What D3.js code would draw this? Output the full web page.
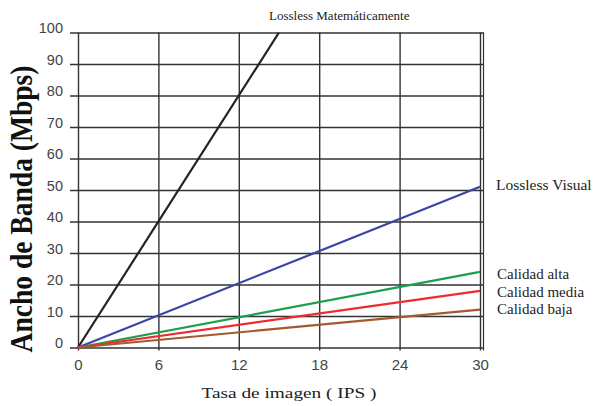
<!DOCTYPE html>
<html>
<head>
<meta charset="utf-8">
<script src="https://cdn.jsdelivr.net/npm/d3@7"></script>
<style>
  body { margin: 0; background: #fff; }
  svg { display: block; }
</style>
</head>
<body>
<svg id="chart" width="595" height="406"></svg>
<script>
// frame rate (IPS) ticks and bandwidth (Mbps) ticks
const xTicks = [0, 6, 12, 18, 24, 30]
const yTicks = [0, 10, 20, 30, 40, 50, 60, 70, 80, 90, 100]

// each series: [fps, Mbps] end points
const seriesNames = ['Lossless Matemáticamente', 'Lossless Visual', 'Calidad alta', 'Calidad media', 'Calidad baja']
const seriesValues = [
  [[0, 0], [15, 100]],
  [[0, 0], [30, 51]],
  [[0, 0], [30, 24]],
  [[0, 0], [30, 18]],
  [[0, 0], [30, 12]],
]
const seriesColors = ['#222222', '#3d44a3', '#1d9e4d', '#ee2b2e', '#a35a2e']

const svg = d3.select('#chart')

const x = d3.scaleLinear().domain([0, 30]).range([78, 480])
const y = d3.scaleLinear().domain([0, 100]).range([347.5, 32.5])

const gridColor = '#333'

// horizontal grid + y labels
const yAxis = d3.axisLeft(y)
  .tickValues(yTicks)
  .tickSizeInner(-(484 - 70))
  .tickSizeOuter(0)
  .tickPadding(7)

const gy = svg.append('g')
  .attr('transform', 'translate(70,0)')
  .call(yAxis)
gy.select('.domain').remove()
gy.selectAll('line').attr('stroke', gridColor).attr('stroke-width', 1.4)
gy.selectAll('text')
  .attr('dy', 0)
  .attr('fill', '#444')
  .style('font-family', '"Liberation Sans", Arial, sans-serif')
  .style('font-size', '14.5px')

// vertical grid + x labels
const xAxis = d3.axisBottom(x)
  .tickValues(xTicks)
  .tickSizeInner(-(350.5 - 32.5))
  .tickSizeOuter(0)
  .tickPadding(9)

const gx = svg.append('g')
  .attr('transform', 'translate(0,350.5)')
  .call(xAxis)
gx.select('.domain').remove()
gx.selectAll('line').attr('stroke', gridColor).attr('stroke-width', 1.4)
gx.selectAll('text')
  .attr('fill', '#444')
  .style('font-family', '"Liberation Sans", Arial, sans-serif')
  .style('font-size', '15px')

// doubled right border
svg.append('line')
  .attr('x1', 483.5).attr('x2', 483.5)
  .attr('y1', y(100)).attr('y2', 350.5)
  .attr('stroke', gridColor)
  .attr('stroke-width', 1.2)

// clip so the steep line stops at the top
svg.append('clipPath').attr('id', 'plot-clip')
  .append('rect')
  .attr('x', x(0) - 2).attr('y', y(100))
  .attr('width', x(30) - x(0) + 4).attr('height', y(0) - y(100) + 3)

const line = d3.line().x(d => x(d[0])).y(d => y(d[1]))

svg.append('g')
  .attr('clip-path', 'url(#plot-clip)')
  .selectAll('path')
  .data(seriesValues)
  .join('path')
  .attr('d', line)
  .attr('fill', 'none')
  .attr('stroke', (d, i) => seriesColors[i])
  .attr('stroke-width', 2.2)

// series labels
const serif = '"Liberation Serif", "Times New Roman", serif'
const labelPos = [
  { x: 269, y: 20, size: 13 },
  { x: 496, y: 190, size: 15.5 },
  { x: 497, y: 279, size: 15 },
  { x: 497, y: 297, size: 15 },
  { x: 497, y: 314, size: 15 },
]
svg.append('g')
  .selectAll('text')
  .data(seriesNames)
  .join('text')
  .attr('x', (d, i) => labelPos[i].x)
  .attr('y', (d, i) => labelPos[i].y)
  .attr('fill', '#222')
  .style('font-family', serif)
  .style('font-size', (d, i) => labelPos[i].size + 'px')
  .text(d => d)

// axis titles
svg.append('text')
  .attr('x', 201.5)
  .attr('y', 398)
  .attr('textLength', 175)
  .attr('lengthAdjust', 'spacingAndGlyphs')
  .attr('fill', '#222')
  .style('font-family', serif)
  .style('font-size', '15.5px')
  .text('Tasa de imagen ( IPS )')

svg.append('text')
  .attr('transform', 'translate(32,209) scale(1.25,1) rotate(-90)')
  .attr('text-anchor', 'middle')
  .attr('textLength', 287)
  .attr('lengthAdjust', 'spacingAndGlyphs')
  .attr('fill', '#111')
  .style('font-family', serif)
  .style('font-weight', 'bold')
  .style('font-size', '26px')
  .text('Ancho de Banda (Mbps)')
</script>
</body>
</html>
